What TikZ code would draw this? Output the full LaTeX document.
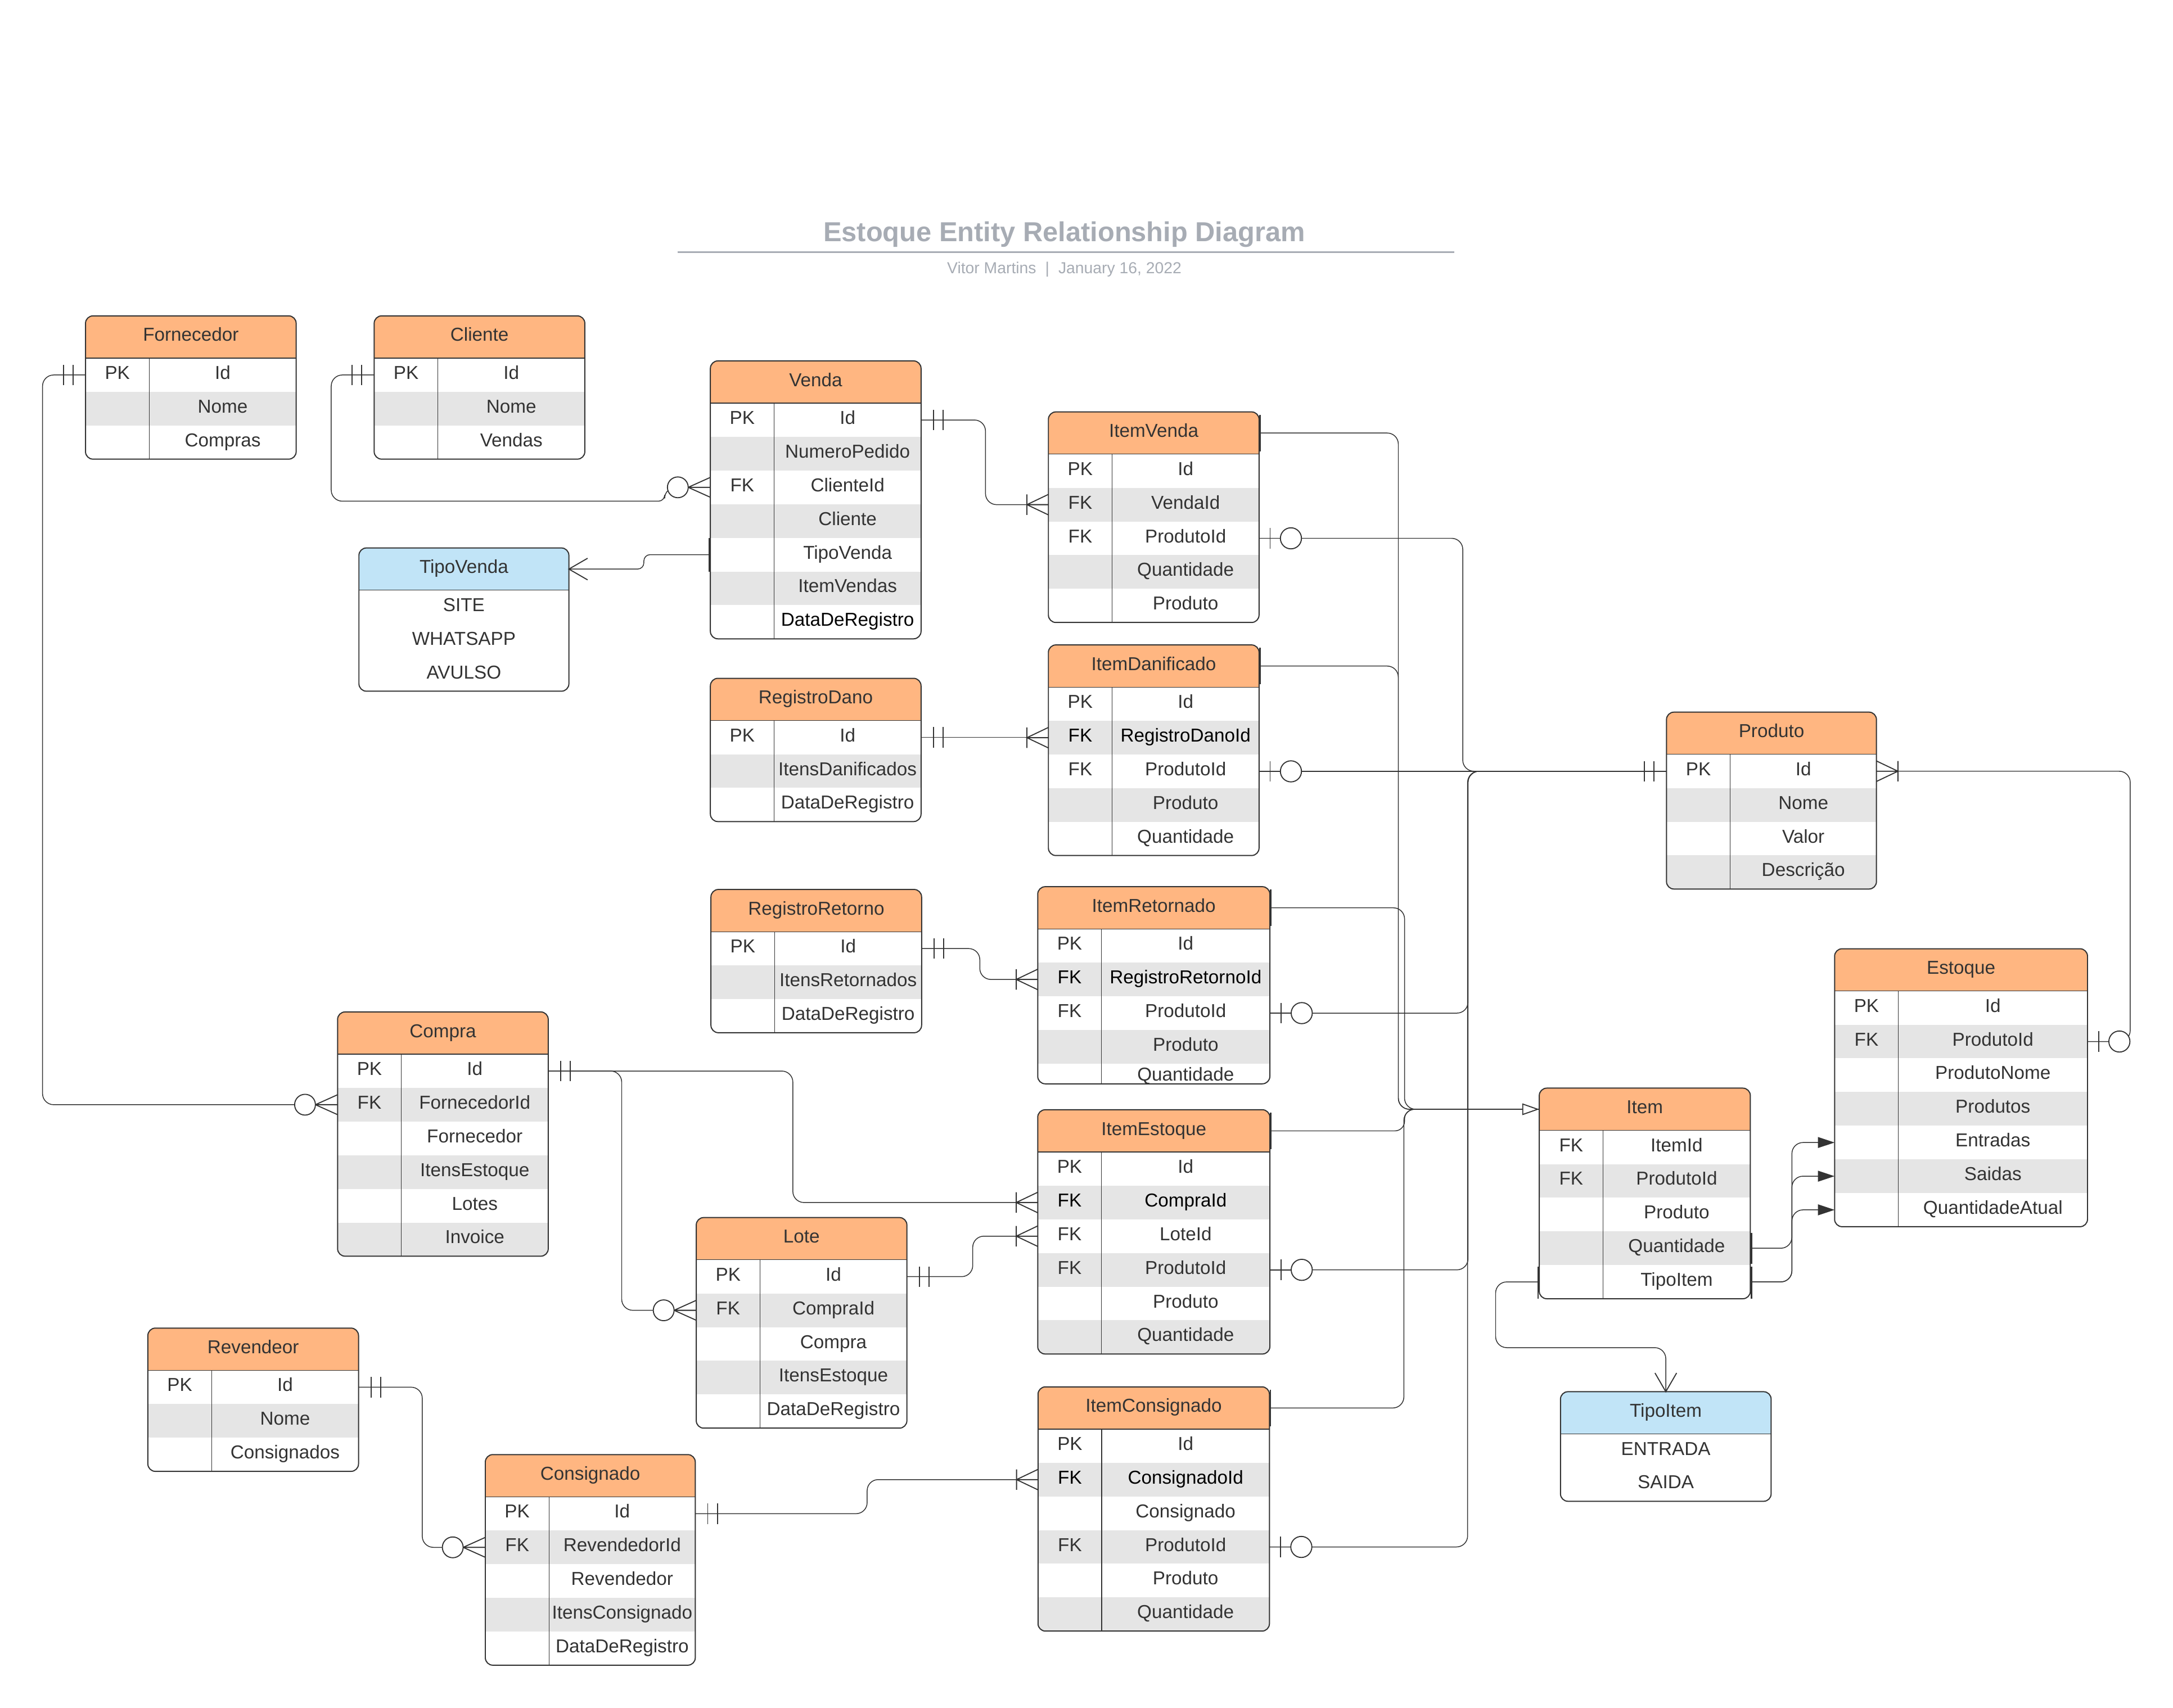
\documentclass[tikz,border=0pt]{standalone}
\usepackage{fontspec}
\setmainfont{Liberation Sans}
\usetikzlibrary{arrows.meta}
\definecolor{hdor}{HTML}{FFB681}
\definecolor{hdbl}{HTML}{C1E4F7}
\definecolor{rowgray}{HTML}{E5E5E5}
\definecolor{lc}{HTML}{333333}
\definecolor{coln}{HTML}{333333}
\definecolor{colb}{HTML}{000000}
\definecolor{ttl}{HTML}{A7ACB4}
\def\hh{30.5}\def\rh{24.3}\def\kw{46}\def\rc{5.4}
\def\tabfont{\fontsize{13.5}{16}\selectfont}
\tikzset{
  conn/.style={draw=lc, line width=0.6pt, rounded corners=8pt},
  mk/.style={draw=lc, line width=0.75pt},
  attbar/.style={draw=lc, line width=1pt},
  tline/.style={draw=lc, line width=0.55pt},
  tborder/.style={draw=lc, line width=0.8pt},
  rowbox/.style={rectangle, inner sep=0pt, outer sep=0pt},
  hdbox/.style={rectangle, inner sep=0pt, outer sep=0pt, font=\tabfont, text=coln, text height=9.7pt, text depth=3.6pt},
  cell/.style={inner sep=0pt, outer sep=0pt, font=\tabfont, text height=9.7pt, text depth=3.6pt},
  pics/onlyone/.style={code={\draw[mk] (9,-7.4) -- (9,7.4) (16,-7.4) -- (16,7.4);}},
  pics/onemany/.style={code={\draw[mk] (0,-7.4) -- (15.5,0) -- (0,7.4) (0,0) -- (15.5,0) (15.5,-7.4) -- (15.5,7.4);}},
  pics/zeromany/.style={code={\draw[mk] (0,-7.2) -- (16,0) -- (0,7.2) (0,0) -- (16,0); \draw[mk,fill=white] (23.5,0) circle (7.5);}},
  pics/zeroone/.style={code={\draw[mk] (8,-7.4) -- (8,7.4) (0,0) -- (15.3,0); \draw[mk,fill=white] (23,0) circle (7.6);}},
  pics/chev/.style={code={\draw[mk] (13.5,-7.8) -- (0,0) -- (13.5,7.8);}},
}
% #1 name, #2 x, #3 y, #4 width, #5 body rows, #6 title, #7 header colour, #8 rows, #9 key column
\newcommand{\ertable}[9]{%
  \pgfmathsetmacro{\tx}{#2}%
  \pgfmathsetmacro{\ty}{#3}%
  \pgfmathsetmacro{\tw}{#4}%
  \pgfmathsetmacro{\tb}{#3+\hh+#5*\rh}%
  \begin{scope}
    \clip[rounded corners=\rc pt] (\tx,\ty) rectangle (\tx+\tw,\tb);
    \fill[white] (\tx,\ty) rectangle (\tx+\tw,\tb);
    \fill[#7] (\tx,\ty) rectangle (\tx+\tw,\ty+\hh);
    \ifnum#9=1\relax
    \foreach \kk/\ff/\cl [count=\i] in {#8}{%
      \pgfmathsetmacro{\ry}{\ty+\hh+(\i-1)*\rh}%
      \ifodd\i\else\fill[rowgray] (\tx,\ry) rectangle (\tx+\tw,\ry+\rh);\fi
    }%
    \fi
  \end{scope}
  \node[hdbox, minimum width=\tw pt, minimum height=\hh pt] (#1) at (\tx+\tw/2,\ty+\hh/2) {#6};
  \foreach \kk/\ff/\cl [count=\i] in {#8}{%
    \pgfmathsetmacro{\ry}{\ty+\hh+(\i-1)*\rh}%
    \pgfmathsetmacro{\cy}{min(\ry+\rh/2,\tb-5)}%
    \node[rowbox, minimum width=\tw pt, minimum height=\rh pt] (#1-\i) at (\tx+\tw/2,\ry+\rh/2) {};
    \ifnum#9=1\relax
      \node[cell, text=col\cl] (#1-\i-k) at (\tx+\kw/2,\cy) {\kk};
      \node[cell, text=col\cl] (#1-\i-f) at (\tx+\kw/2+\tw/2,\cy) {\ff};
    \else
      \node[cell, text=col\cl] (#1-\i-f) at (\tx+\tw/2,\cy) {\ff};
    \fi
  }%
  \ifnum#9=1\relax \draw[tline] (\tx+\kw,\ty+\hh) -- (\tx+\kw,\tb);\fi
  \draw[tline] (\tx,\ty+\hh) -- (\tx+\tw,\ty+\hh);
  \draw[tborder, rounded corners=\rc pt] (\tx,\ty) rectangle (\tx+\tw,\tb);
}
\begin{document}
\begin{tikzpicture}[x=1pt,y=-1pt]
\fill[white] (0,0) rectangle (1568,1232.8);
\useasboundingbox (0,0) rectangle (1568,1232.8);

% title
\node[anchor=base, text=ttl, font=\fontsize{19.8}{24}\selectfont\bfseries] (title) at (768,174.2) {Estoque Entity Relationship Diagram};
\coordinate (ulA) at (488.8,182);
\coordinate (ulB) at (1049.3,182);
\draw[ttl, line width=1.4pt] (ulA) -- (ulB);
\node[anchor=base, text=ttl, font=\fontsize{11.5}{14}\selectfont] (subtitle) at (768,197.3) {Vitor Martins\hspace{6.5pt}|\hspace{6.5pt}January 16, 2022};

% tables
\ertable{Fornecedor}{61.7}{228}{152}{3}{Fornecedor}{hdor}{PK/Id/n, /Nome/n, /Compras/n}{1}
\ertable{Cliente}{270}{228}{152}{3}{Cliente}{hdor}{PK/Id/n, /Nome/n, /Vendas/n}{1}
\ertable{Venda}{512.6}{260.5}{152}{7}{Venda}{hdor}{PK/Id/n, /NumeroPedido/n, FK/ClienteId/n, /Cliente/n, /TipoVenda/n, /ItemVendas/n, /DataDeRegistro/b}{1}
\ertable{TipoVenda}{259}{395.5}{151.5}{3}{TipoVenda}{hdbl}{/SITE/n, /WHATSAPP/n, /AVULSO/n}{0}
\ertable{ItemVenda}{756.5}{297.3}{152}{5}{ItemVenda}{hdor}{PK/Id/n, FK/VendaId/n, FK/ProdutoId/n, /Quantidade/n, /Produto/n}{1}
\ertable{ItemDanificado}{756.5}{465.5}{152}{5}{ItemDanificado}{hdor}{PK/Id/n, FK/RegistroDanoId/b, FK/ProdutoId/n, /Produto/n, /Quantidade/n}{1}
\ertable{RegistroDano}{512.6}{489.6}{152}{3}{RegistroDano}{hdor}{PK/Id/n, /ItensDanificados/n, /DataDeRegistro/n}{1}
\ertable{RegistroRetorno}{513}{642}{152}{3}{RegistroRetorno}{hdor}{PK/Id/n, /ItensRetornados/n, /DataDeRegistro/n}{1}
\ertable{ItemRetornado}{748.8}{640}{167.5}{4.6}{ItemRetornado}{hdor}{PK/Id/n, FK/RegistroRetornoId/b, FK/ProdutoId/n, /Produto/n, /Quantidade/n}{1}
\ertable{ItemEstoque}{748.8}{801}{167.5}{6}{ItemEstoque}{hdor}{PK/Id/n, FK/CompraId/b, FK/LoteId/n, FK/ProdutoId/n, /Produto/n, /Quantidade/n}{1}
\ertable{Compra}{243.6}{730.4}{152}{6}{Compra}{hdor}{PK/Id/n, FK/FornecedorId/n, /Fornecedor/n, /ItensEstoque/n, /Lotes/n, /Invoice/n}{1}
\ertable{Lote}{502.4}{878.8}{152}{5}{Lote}{hdor}{PK/Id/n, FK/CompraId/n, /Compra/n, /ItensEstoque/n, /DataDeRegistro/n}{1}
\ertable{Revendeor}{106.7}{958.6}{152}{3}{Revendeor}{hdor}{PK/Id/n, /Nome/n, /Consignados/n}{1}
\ertable{Consignado}{350.2}{1049.9}{151.5}{5}{Consignado}{hdor}{PK/Id/n, FK/RevendedorId/n, /Revendedor/n, /ItensConsignado/n, /DataDeRegistro/n}{1}
\ertable{ItemConsignado}{749}{1001}{167}{6}{ItemConsignado}{hdor}{PK/Id/n, FK/ConsignadoId/b, /Consignado/n, FK/ProdutoId/n, /Produto/n, /Quantidade/n}{1}
\ertable{Produto}{1202.5}{514}{151.5}{4}{Produto}{hdor}{PK/Id/n, /Nome/n, /Valor/n, /Descrição/n}{1}
\ertable{Estoque}{1323.8}{684.8}{182.5}{7}{Estoque}{hdor}{PK/Id/n, FK/ProdutoId/n, /ProdutoNome/n, /Produtos/n, /Entradas/n, /Saidas/n, /QuantidadeAtual/n}{1}
\ertable{Item}{1110.7}{785.4}{152.3}{5}{Item}{hdor}{FK/ItemId/n, FK/ProdutoId/n, /Produto/n, /Quantidade/n, /TipoItem/n}{1}
\ertable{TipoItem}{1126}{1004.5}{152}{2}{TipoItem}{hdbl}{/ENTRADA/n, /SAIDA/n}{0}

% connectors
\draw[conn] (Fornecedor-1.west) -- ++(-31,0) |- (Compra-2.west);
\draw[conn] (Venda-3.west) -- ++(-33,0) [rounded corners=4.5pt] -- ++(0,10) [rounded corners=8pt] -| ([xshift=-31pt]Cliente-1.west) -- (Cliente-1.west);
\draw[conn, rounded corners=4.5pt] (Venda-5.west) -- ++(-48,0) |- (TipoVenda.east);
\draw[conn] (Venda-1.east) -- ++(46.5,0) |- (ItemVenda-2.west);
\draw[conn] (RegistroDano-1.east) -- (RegistroDano-1.east -| ItemDanificado-2.west);
\draw[conn] (RegistroRetorno-1.east) -- ++(42,0) |- (ItemRetornado-2.west);
\draw[conn] (ItemVenda-3.east) -- ++(147,0) |- (Produto-1.west);
\draw[conn] (ItemDanificado-3.east) -- (ItemDanificado-3.east -| Produto-1.west);
\draw[conn] (ItemRetornado-3.east) -- ++(143,0) |- (Produto-1.west);
\draw[conn] (ItemEstoque-4.east) -- ++(143,0) |- (Produto-1.west);
\draw[conn] (ItemConsignado-4.east) -- ++(143,0) |- (Produto-1.west);
\draw[conn] (Compra-1.east) -- ++(176.5,0) |- (ItemEstoque-2.west);
\draw[conn] (Compra-1.east) -- ++(53,0) |- (Lote-2.west);
\draw[conn] (Lote-1.east) -- ++(47.5,0) |- (ItemEstoque-3.west);
\draw[conn] (Revendeor-1.east) -- ++(46,0) |- (Consignado-2.west);
\draw[conn] (Consignado-1.east) -- ++(124,0) |- (ItemConsignado-2.west);
\draw[conn] (ItemVenda.east) -- ++(100.5,0) |- (Item.west);
\draw[conn] (ItemDanificado.east) -- ++(100.5,0) |- (Item.west);
\draw[conn] (ItemRetornado.east) -- ++(97.2,0) |- (Item.west);
\draw[conn, rounded corners=7pt] (ItemEstoque.east) -- ++(97.2,0) |- (Item.west);
\draw[conn, -{Triangle[length=12.3pt,width=8.4pt,fill=white,line width=0.75pt]}] (ItemConsignado.east) -- ++(97,0) |- (Item.west);
\draw[conn, -{Triangle[length=12pt,width=7.8pt]}] (Item-4.east) -- ++(30,0) |- (Estoque-5.west);
\draw[conn, -{Triangle[length=12pt,width=7.8pt]}] (Item-5.east) -- ++(30,0) |- (Estoque-6.west);
\draw[conn, -{Triangle[length=12pt,width=7.8pt]}] (Item-5.east) -- ++(30,0) |- (Estoque-7.west);
\draw[conn] (Item-5.west) -- ++(-31.5,0) |- ([yshift=31.8pt]TipoItem.north) -- (TipoItem.north);
\draw[conn] (Estoque-2.east) -- ++(30.8,0) |- (Produto-1.east);

% attachment bars
\foreach \n in {ItemVenda, ItemDanificado, ItemRetornado, ItemEstoque, ItemConsignado}
  \draw[attbar] ([xshift=0.6pt,yshift=-2pt]\n.north east) -- ([xshift=0.6pt,yshift=2pt]\n.south east);
\draw[attbar] ([xshift=-0.6pt]Venda-5.north west) -- ([xshift=-0.6pt]Venda-5.south west);
\draw[attbar] ([xshift=0.8pt,yshift=-1pt]Item-4.north east) -- ([xshift=0.8pt,yshift=1pt]Item-4.south east);
\draw[attbar] ([xshift=0.8pt,yshift=-1pt]Item-5.north east) -- ([xshift=0.8pt]Item-5.south east);
\draw[attbar] ([xshift=-0.8pt,yshift=-1pt]Item-5.north west) -- ([xshift=-0.8pt]Item-5.south west);

% end markers
\pic[rotate=180] at (Fornecedor-1.west) {onlyone};
\pic[rotate=180] at (Compra-2.west) {zeromany};
\pic[rotate=180] at (Cliente-1.west) {onlyone};
\pic[rotate=180] at (Venda-3.west) {zeromany};
\pic at (TipoVenda.east) {chev};
\pic at (Venda-1.east) {onlyone};
\pic[rotate=180] at (ItemVenda-2.west) {onemany};
\pic at (RegistroDano-1.east) {onlyone};
\pic[rotate=180] at (ItemDanificado-2.west) {onemany};
\pic at (RegistroRetorno-1.east) {onlyone};
\pic[rotate=180] at (ItemRetornado-2.west) {onemany};
\pic at (ItemVenda-3.east) {zeroone};
\pic at (ItemDanificado-3.east) {zeroone};
\pic at (ItemRetornado-3.east) {zeroone};
\pic at (ItemEstoque-4.east) {zeroone};
\pic at (ItemConsignado-4.east) {zeroone};
\pic[rotate=180] at (Produto-1.west) {onlyone};
\pic at (Compra-1.east) {onlyone};
\pic[rotate=180] at (ItemEstoque-2.west) {onemany};
\pic[rotate=180] at (Lote-2.west) {zeromany};
\pic at (Lote-1.east) {onlyone};
\pic[rotate=180] at (ItemEstoque-3.west) {onemany};
\pic at (Revendeor-1.east) {onlyone};
\pic[rotate=180] at (Consignado-2.west) {zeromany};
\pic at (Consignado-1.east) {onlyone};
\pic[rotate=180] at (ItemConsignado-2.west) {onemany};
\pic[rotate=90] at (TipoItem.north) {chev};
\pic at (Estoque-2.east) {zeroone};
\pic at (Produto-1.east) {onemany};
\end{tikzpicture}
\end{document}
